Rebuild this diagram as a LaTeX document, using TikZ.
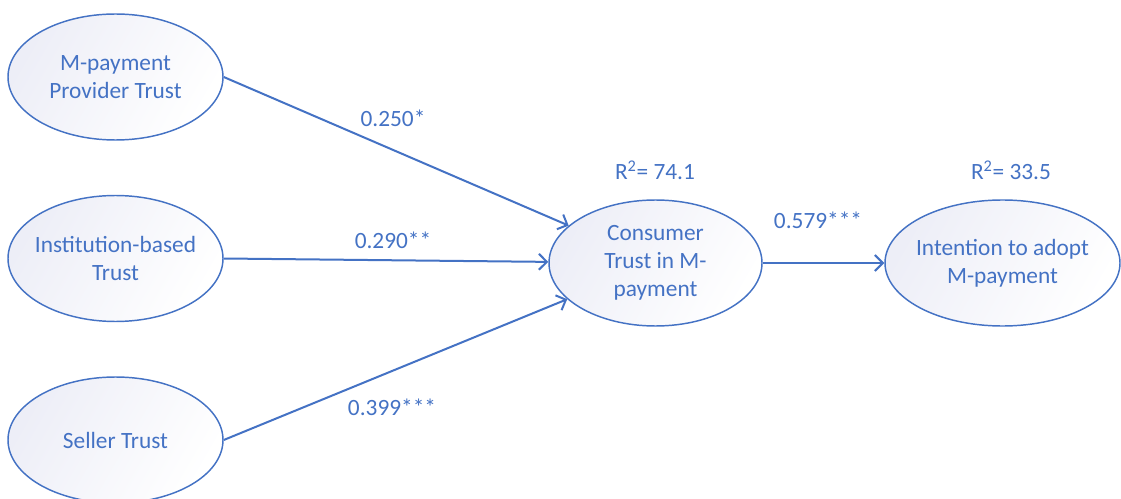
\documentclass[tikz,border=0pt]{standalone}
\usepackage{fontspec}
\setmainfont{Carlito}
\usetikzlibrary{shapes.geometric,arrows.meta}
\definecolor{lineblue}{HTML}{4472C4}
\definecolor{textblue}{HTML}{4472C4}
\definecolor{fillgrey}{RGB}{237,238,247}
\begin{document}
\begin{tikzpicture}[x=0.75pt,y=-0.75pt,
  construct/.style={ellipse, draw=lineblue, line width=1.1pt,
    left color=fillgrey, right color=white, shading angle=60,
    minimum width=161.25pt, minimum height=94.5pt, inner xsep=-12pt, inner ysep=0pt,
    align=center, text=textblue, font=\fontsize{17.5}{21}\selectfont},
  path/.style={draw=lineblue, line width=1.5pt,
    -{Straight Barb[length=6pt,width=12pt]}},
  coef/.style={text=textblue, font=\fontsize{17.5}{21}\selectfont, inner sep=0pt}]
\useasboundingbox (0,0) rectangle (1121,499);
\node[construct] (pt) at (115.5,77) {M-payment\\Provider Trust};
\node[construct] (it) at (115.5,258.5) {Institution-based\\Trust};
\node[construct] (st) at (115.5,440) {Seller Trust};
\node[construct, minimum width=159.75pt] (ct) at (655.5,263) {Consumer\\Trust in M-\\payment};
\node[construct, minimum width=176.25pt] (ia) at (1002.5,263) {Intention to adopt\\M-payment};
\draw[path] (pt.east) -- (ct);
\draw[path] (it.east) -- (ct);
\draw[path] (st.east) -- (ct);
\draw[path] (ct.east) -- (ia.west);
\node[coef] (l1) at (393,118) {0.250*};
\node[coef] (l2) at (393,240) {0.290**};
\node[coef] (l3) at (392,407) {0.399***};
\node[coef] (l4) at (818,220) {0.579***};
\node[coef] (r1) at (655,170) {R\textsuperscript{2}= 74.1};
\node[coef] (r2) at (1011,170) {R\textsuperscript{2}= 33.5};
\end{tikzpicture}
\end{document}
